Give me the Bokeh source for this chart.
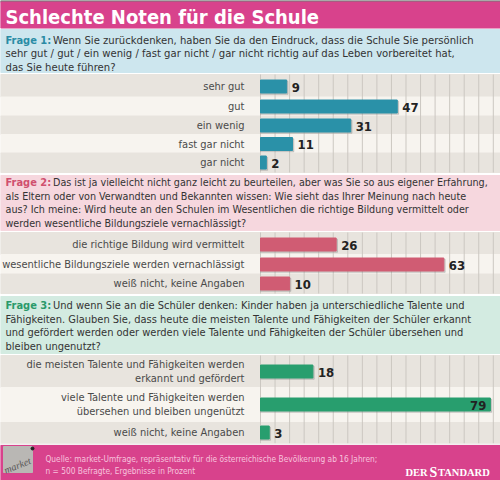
from bokeh.plotting import figure
from bokeh.models import Range1d
from bokeh.core.properties import value
from bokeh.embed import file_html
from bokeh.resources import INLINE

# ---------------- data ----------------
TITLE = "Schlechte Noten für die Schule"

q1_label = "Frage 1:"
q1_text = [
    "Wenn Sie zurückdenken, haben Sie da den Eindruck, dass die Schule Sie persönlich",
    "sehr gut / gut / ein wenig / fast gar nicht / gar nicht richtig auf das Leben vorbereitet hat,",
    "das Sie heute führen?",
]
q1_categories = ["sehr gut", "gut", "ein wenig", "fast gar nicht", "gar nicht"]
q1_values = [9, 47, 31, 11, 2]

q2_label = "Frage 2:"
q2_text = [
    "Das ist ja vielleicht nicht ganz leicht zu beurteilen, aber was Sie so aus eigener Erfahrung,",
    "als Eltern oder von Verwandten und Bekannten wissen: Wie sieht das Ihrer Meinung nach heute",
    "aus? Ich meine: Wird heute an den Schulen im Wesentlichen die richtige Bildung vermittelt oder",
    "werden wesentliche Bildungsziele vernachlässigt?",
]
q2_categories = ["die richtige Bildung wird vermittelt",
                 "wesentliche Bildungsziele werden vernachlässigt",
                 "weiß nicht, keine Angaben"]
q2_values = [26, 63, 10]

q3_label = "Frage 3:"
q3_text = [
    "Und wenn Sie an die Schüler denken: Kinder haben ja unterschiedliche Talente und",
    "Fähigkeiten. Glauben Sie, dass heute die meisten Talente und Fähigkeiten der Schüler erkannt",
    "und gefördert werden oder werden viele Talente und Fähigkeiten der Schüler übersehen und",
    "bleiben ungenutzt?",
]
q3_categories = [["die meisten Talente und Fähigkeiten werden", "erkannt und gefördert"],
                 ["viele Talente und Fähigkeiten werden", "übersehen und bleiben ungenützt"],
                 ["weiß nicht, keine Angaben"]]
q3_values = [18, 79, 3]

grid_ticks = list(range(0, 85, 5))

source_lines = [
    "Quelle: market-Umfrage, repräsentativ für die österreichische Bevölkerung  ab 16 Jahren;",
    "n = 500 Befragte, Ergebnisse in Prozent",
]
logo_text = "market"

# ---------------- style / layout ----------------
COND = value("'DejaVu Sans Condensed', 'DejaVu Sans', sans-serif")
SERIF = value("Liberation Serif")

PINK_HEAD = "#d8428c"
ROW_DARK = "#e8e4de"
ROW_LIGHT = "#f7f4ef"
GRID_C = "#cbc7c1"
TXT = "#333333"

sections = [
    dict(label=q1_label, lines=q1_text, band=(29, 72), line_y=[40, 53.3, 66.6], fs="11.2px",
         lab_color="#2a8ca5", band_color="#cde6ee", bar_color="#2a91a8",
         cats=[[c] for c in q1_categories], vals=q1_values,
         rows=[(74, 96.5), (96.5, 115.5), (115.5, 134), (134, 152.5), (152.5, 172)],
         bar_y=[86, 106, 125, 143.5, 162]),
    dict(label=q2_label, lines=q2_text, band=(175, 230), line_y=[182, 195.5, 209, 222.5], fs="10.7px",
         lab_color="#d0506e", band_color="#f6d7de", bar_color="#d05c73",
         cats=[[c] for c in q2_categories], vals=q2_values,
         rows=[(232, 254), (254, 273.5), (273.5, 293)],
         bar_y=[244, 264, 283]),
    dict(label=q3_label, lines=q3_text, band=(296, 353), line_y=[305, 318.5, 332, 345.5], fs="11px",
         lab_color="#2a9a6a", band_color="#d3ebe1", bar_color="#289e6e",
         cats=q3_categories, vals=q3_values,
         rows=[(355, 387), (387, 422), (422, 443)],
         bar_y=[371, 404, 432]),
]

BAR0 = 260.0      # pixel where 0 % sits
PX_PER_PCT = 2.91
XMIN, XMAX = 0, 500

p = figure(width=500, height=480, output_backend="svg", toolbar_location=None,
           x_range=Range1d(XMIN, XMAX), y_range=Range1d(480, 0),
           min_border=0, background_fill_color="#ffffff", border_fill_color="#ffffff")
p.axis.visible = False
p.grid.visible = False
p.outline_line_color = None
p.extra_x_ranges = {"pct": Range1d((XMIN - BAR0) / PX_PER_PCT, (XMAX - BAR0) / PX_PER_PCT)}

# title band
p.quad(left=0, right=500, top=0, bottom=1.5, color="#777777")
p.quad(left=0, right=500, top=1.5, bottom=27.5, color=PINK_HEAD)

for s in sections:
    b0, b1 = s["band"]
    p.quad(left=0, right=500, top=b0, bottom=b1, color=s["band_color"])
    # question text
    p.text(x=[5], y=[s["line_y"][0]], text=[s["label"]], text_font=COND,
           text_font_style="bold", text_font_size="11px", text_color=s["lab_color"],
           text_baseline="middle")
    xs = [52.5] + [5] * (len(s["lines"]) - 1)
    p.text(x=xs, y=s["line_y"], text=s["lines"], text_font=COND,
           text_font_size=s["fs"], text_color=TXT, text_baseline="middle")
    # row bands
    tops = [r[0] for r in s["rows"]]
    bots = [r[1] for r in s["rows"]]
    cols = [ROW_DARK if i % 2 == 0 else ROW_LIGHT for i in range(len(tops))]
    p.quad(left=0, right=500, top=tops, bottom=bots, color=cols)
    # grid lines
    p.segment(x0=grid_ticks, x1=grid_ticks, y0=[tops[0]] * len(grid_ticks),
              y1=[bots[-1]] * len(grid_ticks), line_color=GRID_C, line_width=1,
              x_range_name="pct")
    # bar shadows + bars
    p.hbar(y=[y + 1.3 for y in s["bar_y"]], left=0, right=[v + 0.45 for v in s["vals"]],
           height=13, color="#8c8c8c", alpha=0.35, x_range_name="pct")
    p.hbar(y=s["bar_y"], left=0, right=s["vals"], height=13, color=s["bar_color"],
           x_range_name="pct")
    # category labels
    for cat, y in zip(s["cats"], s["bar_y"]):
        n = len(cat)
        ys = [y + (i - (n - 1) / 2) * 13.5 for i in range(n)]
        p.text(x=[244] * n, y=ys, text=cat, text_font=COND, text_font_size="11px",
               text_color="#4a4a4a", text_align="right", text_baseline="middle")
    # value labels
    for v, y in zip(s["vals"], s["bar_y"]):
        inside = v > 75
        p.text(x=[v], y=[y + 0.5], text=[str(v)], text_font=COND, text_font_style="bold",
               text_font_size="13px", text_color="#222222",
               text_align="right" if inside else "left", text_baseline="middle",
               x_offset=-4 if inside else 5, x_range_name="pct")

# footer
p.quad(left=0, right=500, top=443.5, bottom=445, color="#f4eef0")
p.quad(left=0, right=500, top=445, bottom=480, color=PINK_HEAD)
p.quad(left=3, right=32, top=446, bottom=472, color="#b9b7b4")
p.text(x=[4], y=[470], text=[logo_text], text_font=SERIF, text_font_style="italic",
       text_font_size="10px", text_color="#555555", angle=0.38, text_baseline="alphabetic")
p.scatter(x=[32], y=[448], size=3, color="#222222")
p.text(x=[45, 45], y=[458, 470.5], text=source_lines, text_font=COND,
       text_font_size="8.3px", text_color="#f7c3dd", text_baseline="middle")
p.text(x=[405], y=[472], text=["DER"], text_font=SERIF, text_font_style="bold",
       text_font_size="10.5px", text_color="white", text_baseline="alphabetic")
p.text(x=[429], y=[472], text=["S"], text_font=SERIF, text_font_style="bold",
       text_font_size="14px", text_color="white", text_baseline="alphabetic")
p.text(x=[437.5], y=[472], text=["TANDARD"], text_font=SERIF, text_font_style="bold",
       text_font_size="10.5px", text_color="white", text_baseline="alphabetic")

# title (drawn last so nothing covers it)
p.text(x=[5], y=[16.5], text=[TITLE], text_font=COND, text_font_style="bold",
       text_font_size="20px", text_color="white", text_baseline="middle")

open("out.html", "w").write(file_html(p, INLINE))
